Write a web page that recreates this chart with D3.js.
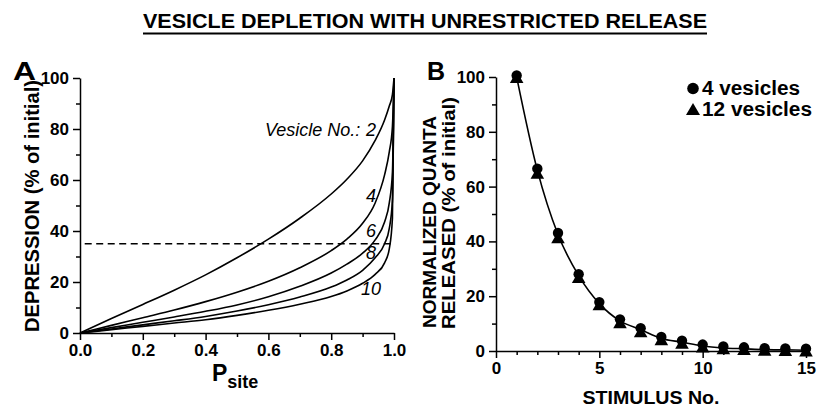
<!DOCTYPE html>
<html><head><meta charset="utf-8">
<script src="https://cdn.jsdelivr.net/npm/d3@7/dist/d3.min.js"></script>
<style>
html,body{margin:0;padding:0;background:#fff;}
svg{display:block;font-family:"Liberation Sans",Arial,Helvetica,sans-serif;}
</style></head>
<body><svg id="c" width="830" height="408"></svg>
<script>
// ---------- data ----------
const psite   = [0, 0.1, 0.2, 0.3, 0.4, 0.5, 0.6, 0.7, 0.8, 0.85, 0.9, 0.94, 0.97, 0.985, 0.995, 1.0];
const ves2    = [0, 5.7, 11.2, 16.8, 22.8, 29.5, 36.8, 45.0, 54.5, 60.3, 67.5, 75.5, 83.5, 89.0, 93.5, 100];
const ves4    = [0, 3.0, 6.0, 9.0, 12.3, 16.0, 20.3, 25.6, 32.3, 36.8, 43.0, 51.0, 62.0, 71.0, 81.0, 100];
const ves6    = [0, 2.1, 4.2, 6.3, 8.5, 11.0, 14.2, 18.3, 23.5, 27.0, 31.3, 36.5, 43.5, 51.0, 63.0, 100];
const ves8    = [0, 1.6, 3.2, 4.8, 6.5, 8.6, 11.1, 14.1, 18.0, 20.8, 24.6, 29.5, 35.0, 41.0, 52.0, 100];
const ves10   = [0, 1.3, 2.6, 3.9, 5.2, 6.9, 8.9, 11.3, 14.3, 16.5, 19.5, 23.0, 27.5, 33.0, 45.0, 100];
const curveNames = ["2", "4", "6", "8", "10"];
const thresholdLevel = 35;

const stimulus  = [1, 2, 3, 4, 5, 6, 7, 8, 9, 10, 11, 12, 13, 14, 15];
const quanta4   = [100, 66, 42.5, 27.5, 17.3, 11, 7.8, 4.6, 3.2, 1.8, 1.1, 0.8, 0.5, 0.4, 0.3];
const quanta12  = [100, 65, 41.5, 27, 17, 10.5, 7.2, 4.3, 3.0, 1.6, 1.0, 0.7, 0.4, 0.3, 0.2];
const legendLabels = ["4 vesicles", "12 vesicles"];

const aXMajor = [0, 0.2, 0.4, 0.6, 0.8, 1.0];
const aXMinor = [0.1, 0.3, 0.5, 0.7, 0.9];
const yMajor  = [0, 20, 40, 60, 80, 100];
const yMinor  = [10, 30, 50, 70, 90];
const bXMajor = [0, 5, 10, 15];
const bXMinor = [1, 2, 3, 4, 6, 7, 8, 9, 11, 12, 13, 14];

// ---------- setup ----------
const svg = d3.select("#c");
const black = "#000";

// Title
svg.append("text").attr("x", 143).attr("y", 28)
  .attr("font-size", 21).attr("font-weight", "bold")
  .attr("textLength", 564).attr("lengthAdjust", "spacingAndGlyphs")
  .text("VESICLE DEPLETION WITH UNRESTRICTED RELEASE");
svg.append("line").attr("x1", 143).attr("x2", 707).attr("y1", 33.5).attr("y2", 33.5)
  .attr("stroke", black).attr("stroke-width", 2);

function drawAxes(g, x, y, xMajor, xMinor, xFmt) {
  g.append("g").attr("transform", `translate(0,${y.range()[0]})`)
    .call(d3.axisBottom(x).tickValues(xMajor).tickFormat(xFmt).tickSize(7).tickSizeOuter(0).tickPadding(4));
  g.append("g").attr("transform", `translate(0,${y.range()[0]})`)
    .call(d3.axisBottom(x).tickValues(xMinor).tickFormat("").tickSize(4).tickSizeOuter(0))
    .select(".domain").remove();
  g.append("g").attr("transform", `translate(${x.range()[0]},0)`)
    .call(d3.axisLeft(y).tickValues(yMajor).tickFormat(d3.format("d")).tickSize(7).tickSizeOuter(0).tickPadding(4));
  g.append("g").attr("transform", `translate(${x.range()[0]},0)`)
    .call(d3.axisLeft(y).tickValues(yMinor).tickFormat("").tickSize(4).tickSizeOuter(0))
    .select(".domain").remove();
  g.selectAll(".domain,.tick line").attr("stroke", black).attr("stroke-width", 1.5);
  g.selectAll(".tick text").attr("font-size", 17).attr("font-weight", "bold")
    .attr("font-family", "Liberation Sans, Arial, sans-serif").attr("fill", black);
}

// ---------- Panel A ----------
const gA = svg.append("g");
const xA = d3.scaleLinear().domain([0, 1]).range([80, 394]);
const yA = d3.scaleLinear().domain([0, 100]).range([333, 78]);
drawAxes(gA, xA, yA, aXMajor, aXMinor, d3.format(".1f"));

const series = [ves2, ves4, ves6, ves8, ves10];
const lineA = d3.line().x((d, i) => xA(psite[i])).y(d => yA(d)).curve(d3.curveMonotoneX);
gA.selectAll("path.curve").data(series).join("path").attr("class", "curve")
  .attr("d", lineA).attr("fill", "none").attr("stroke", black).attr("stroke-width", 1.6);

gA.append("line").attr("x1", xA(0.015)).attr("x2", xA(1)).attr("y1", yA(thresholdLevel)).attr("y2", yA(thresholdLevel))
  .attr("stroke", black).attr("stroke-width", 1.6).attr("stroke-dasharray", "7,4.5");

// curve labels
function itText(x, y, t) {
  return gA.append("text").attr("x", x).attr("y", y).attr("font-size", 18).attr("font-style", "italic").text(t);
}
itText(265, 136, "Vesicle No.:");
itText(366, 136, curveNames[0]);
itText(366, 202, curveNames[1]);
itText(366, 237, curveNames[2]);
itText(366, 259, curveNames[3]);
itText(361, 295, curveNames[4]);

// Axis titles A
svg.append("text").attr("transform", "translate(39,206) rotate(-90)")
  .attr("text-anchor", "middle").attr("font-size", 20).attr("font-weight", "bold")
  .attr("textLength", 252).attr("lengthAdjust", "spacingAndGlyphs")
  .text("DEPRESSION (% of initial)");
const pt = svg.append("text").attr("x", 212).attr("y", 381).attr("font-weight", "bold");
pt.append("tspan").attr("font-size", 23).text("P");
pt.append("tspan").attr("font-size", 18).attr("dy", 7).text("site");
svg.append("text").attr("x", 13).attr("y", 80).attr("font-size", 26).attr("font-weight", "bold")
  .attr("textLength", 23).attr("lengthAdjust", "spacingAndGlyphs").text("A");

// ---------- Panel B ----------
const gB = svg.append("g");
const xB = d3.scaleLinear().domain([0, 15]).range([496, 806]);
const yB = d3.scaleLinear().domain([0, 100]).range([351, 77]);
drawAxes(gB, xB, yB, bXMajor, bXMinor, d3.format("d"));

const lineB = d3.line().x((d, i) => xB(stimulus[i])).y(d => yB(d)).curve(d3.curveMonotoneX);
gB.append("path").datum(quanta4).attr("d", lineB).attr("fill", "none").attr("stroke", black).attr("stroke-width", 1.6);

const tri = d3.symbol().type(d3.symbolTriangle).size(80);
gB.selectAll("path.tri").data(quanta12).join("path").attr("class", "tri")
  .attr("d", tri).attr("transform", (d, i) => `translate(${xB(stimulus[i])},${yB(d) + 2})`).attr("fill", black);
gB.selectAll("circle.pt").data(quanta4).join("circle").attr("class", "pt")
  .attr("cx", (d, i) => xB(stimulus[i])).attr("cy", d => yB(d) - 1.5).attr("r", 5.2).attr("fill", black);

// legend
gB.append("circle").attr("cx", 693).attr("cy", 88.5).attr("r", 5.8).attr("fill", black);
gB.append("path").attr("d", d3.symbol().type(d3.symbolTriangle).size(85)).attr("transform", "translate(693,111)").attr("fill", black);
gB.append("text").attr("x", 702).attr("y", 95).attr("font-size", 20).attr("font-weight", "bold")
  .attr("textLength", 98).attr("lengthAdjust", "spacingAndGlyphs").text(legendLabels[0]);
gB.append("text").attr("x", 702).attr("y", 115.5).attr("font-size", 20).attr("font-weight", "bold")
  .attr("textLength", 110).attr("lengthAdjust", "spacingAndGlyphs").text(legendLabels[1]);

// Axis titles B
svg.append("text").attr("transform", "translate(436,222) rotate(-90)")
  .attr("text-anchor", "middle").attr("font-size", 19).attr("font-weight", "bold")
  .attr("textLength", 212).attr("lengthAdjust", "spacingAndGlyphs").text("NORMALIZED QUANTA");
svg.append("text").attr("transform", "translate(455,213) rotate(-90)")
  .attr("text-anchor", "middle").attr("font-size", 19).attr("font-weight", "bold")
  .attr("textLength", 232).attr("lengthAdjust", "spacingAndGlyphs").text("RELEASED (% of initial)");
svg.append("text").attr("x", 651).attr("y", 404).attr("text-anchor", "middle")
  .attr("font-size", 19).attr("font-weight", "bold")
  .attr("textLength", 137).attr("lengthAdjust", "spacingAndGlyphs").text("STIMULUS No.");
svg.append("text").attr("x", 427).attr("y", 80).attr("font-size", 25).attr("font-weight", "bold").text("B");
</script></body></html>
